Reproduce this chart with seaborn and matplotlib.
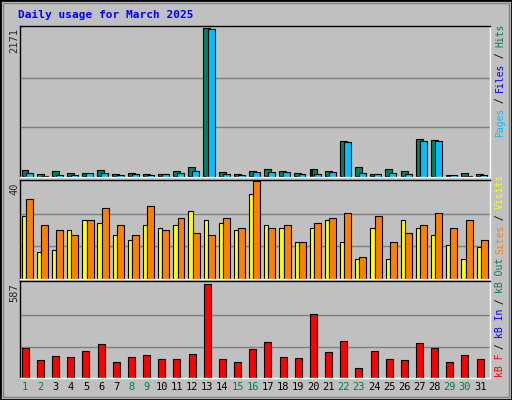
import matplotlib
matplotlib.use("Agg")
import matplotlib.pyplot as plt
import numpy as np
import seaborn as sns

days = list(range(1, 32))
hits = [108, 49, 93, 64, 64, 108, 49, 64, 49, 49, 93, 143, 2171, 79, 49, 93,
        123, 93, 64, 123, 93, 522, 143, 49, 123, 93, 556, 537, 34, 64, 49]
files = [64, 20, 34, 34, 64, 64, 34, 49, 34, 49, 64, 93, 2165, 49, 34, 79,
         79, 79, 49, 49, 79, 507, 64, 49, 64, 49, 522, 522, 34, 20, 34]
pages = [10, 5, 10, 8, 10, 10, 8, 10, 8, 8, 10, 10, 12, 10, 8, 10,
         10, 10, 8, 108, 10, 10, 10, 8, 10, 10, 10, 10, 8, 15, 8]
visits = [26, 11, 12, 20, 24, 23, 18, 16, 22, 21, 22, 28, 24, 23, 20, 35,
          22, 21, 15, 21, 24, 15, 8, 21, 8, 24, 21, 18, 14, 8, 13]
sites = [33, 22, 20, 18, 24, 29, 22, 18, 30, 20, 25, 19, 18, 25, 21, 40,
         21, 22, 15, 23, 25, 27, 9, 26, 15, 19, 22, 27, 21, 24, 16]
kbytes = [188, 111, 137, 131, 169, 214, 98, 131, 143, 118, 118, 150, 587, 118, 98, 182,
          227, 131, 124, 400, 163, 233, 60, 169, 118, 111, 220, 188, 98, 143, 118]
weekends = [1, 2, 8, 9, 15, 16, 22, 23, 29, 30]

sns.set_style("white")
plt.rcParams["font.family"] = ["DejaVu Sans Mono"]

BG = "#c0c0c0"
fig = plt.figure(figsize=(5.12, 4.0), dpi=100, facecolor=BG)
W, H = 512, 400

def panel(y0, y1):
    ax = fig.add_axes([20 / W, 1 - y1 / H, 470 / W, (y1 - y0) / H])
    ax.set_facecolor(BG)
    ax.set_xlim(0.5, 31.5)
    ax.set_xticks([])
    ax.set_yticks([])
    for s in ax.spines.values():
        s.set_color("black")
        s.set_linewidth(1)
    ax.spines["bottom"].set_color("white")
    ax.spines["right"].set_color("white")
    return ax

x = np.array(days)
edge = dict(edgecolor="black", linewidth=0.8)

ax1 = panel(26, 177)
m1 = max(hits)
ax1.set_ylim(0, m1 * 1.015)
for g in (m1 / 3, 2 * m1 / 3):
    ax1.axhline(g, color="#808080", lw=1, zorder=0)
ax1.bar(x - 0.17, hits, width=0.46, color="#008060", **edge)
ax1.bar(x + 0.1, files, width=0.46, color="#00c0ff", **edge)
ax1.bar(x - 0.3, pages, width=0.14, color="#0000ff", **edge)

ax2 = panel(180, 279)
m2 = max(sites)
ax2.set_ylim(0, m2 * 1.015)
for g in (m2 / 3, 2 * m2 / 3):
    ax2.axhline(g, color="#808080", lw=1, zorder=0)
ax2.bar(x - 0.25, visits, width=0.28, color="#ffff00", **edge)
ax2.bar(x + 0.12, sites, width=0.46, color="#ff8000", **edge)

ax3 = panel(281, 378)
m3 = max(kbytes)
ax3.set_ylim(0, m3 * 1.03)
for g in (m3 / 3, 2 * m3 / 3):
    ax3.axhline(g, color="#808080", lw=1, zorder=0)
ax3.bar(x - 0.15, kbytes, width=0.46, color="#ff0000", **edge)
for d in days:
    ax3.text(d - 0.15, -0.04, str(d), transform=ax3.get_xaxis_transform(),
             ha="center", va="top", fontsize=7.5,
             color="#008040" if d in weekends else "black")

fig.text(18 / W, 1 - 15 / H, "Daily usage for March 2025", color="#0000ff",
         fontsize=8, fontweight="bold", va="center")

for lab, top in (("2171", 28), ("40", 182), ("587", 283)):
    fig.text(14 / W, 1 - top / H, lab, rotation=90, ha="center", va="top", fontsize=7.5)

def side_label(parts, bottom):
    step = 5.6
    y = bottom
    for txt, col in parts:
        fig.text(500 / W, 1 - y / H, txt, rotation=90, ha="center", va="bottom",
                 fontsize=7, color=col)
        y -= step * len(txt)

side_label([("Pages", "#00c0ff"), (" / ", "black"), ("Files", "#0000ff"),
            (" / ", "black"), ("Hits", "#008060")], 137)
side_label([("kB F", "#ff0000"), (" / ", "black"), ("kB In", "#0000ff"),
            (" / ", "black"), ("kB Out", "#008060"), (" ", "black"),
            ("Sites", "#ff8000"), (" / ", "black"), ("Visits", "#ffff00")], 377)

fig.patches.append(plt.Rectangle((0, 0), 1, 1, transform=fig.transFigure, fill=False,
                                 edgecolor="black", lw=2))
fig.patches.append(plt.Rectangle((3 / W, 3 / H), 1 - 6 / W, 1 - 6 / H, transform=fig.transFigure,
                                 fill=False, edgecolor="#808080", lw=1))

fig.savefig("out.png", dpi=100, facecolor=BG)
